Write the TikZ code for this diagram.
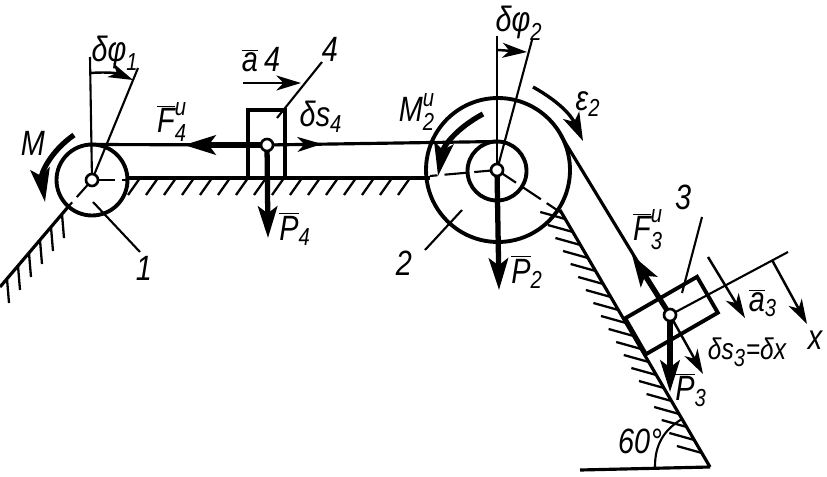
\documentclass[tikz,border=0pt]{standalone}
\usepackage{fontspec}
\setmainfont{Liberation Sans}[FakeStretch=0.82]
\usetikzlibrary{arrows.meta}
\newcommand{\ls}[1]{\mbox{\fontsize{14}{16}\selectfont\itshape #1}}
\tikzset{
  lab/.style={font=\fontsize{20}{22}\selectfont\itshape,inner sep=0pt},
  wheel/.style={circle,draw,line width=2.2pt,inner sep=0pt,outer sep=0pt},
  pin/.style={circle,draw,fill=white,line width=1.5pt,inner sep=0pt,minimum size=0.24cm},
  blockbox/.style={draw,line width=2.2pt,inner sep=0pt,outer sep=0pt},
  rope/.style={line width=1.8pt},
  thinline/.style={line width=1.2pt},
  hatch/.style={line width=1.3pt},
  axisline/.style={line width=1.2pt,dash pattern=on 13pt off 4pt},
  force/.style={line width=3pt,-{Stealth[length=18pt,width=11pt,inset=4pt]}},
  moment/.style={line width=3pt,-{Stealth[length=19pt,width=11pt,inset=4pt]}},
  move/.style={line width=1.4pt,-{Stealth[length=14pt,width=8.5pt,inset=4pt]}},
}
\begin{document}
\begin{tikzpicture}[x=0.02cm,y=-0.02cm]
  \useasboundingbox (0,0) rectangle (827,476);
  % points of the mechanism
  \coordinate (c1) at (92,180);
  \coordinate (c2) at (497,170);
  \coordinate (c3) at (670,315);
  \coordinate (c4) at (267,145);
  \coordinate (gl) at (128,178);
  \coordinate (gr) at (430,178);
  \coordinate (sl1) at (68,207);
  \coordinate (sl2) at (0,287);
  \coordinate (sr1) at (560,210);
  \coordinate (apex) at (710,467);
  \coordinate (base) at (580,470);
  % ground and hatching
  \draw [rope] (gl) -- (gr);
  \foreach \x in {140,158,...,425}
    \draw [hatch] (\x,178) -- ++(-12,17);
  \draw [rope] (sl1) -- (sl2);
  \foreach \x in {7,18,...,67}
    \draw [hatch] (\x,{207+(68-\x)*1.18}) -- ++(2,24);
  \draw [rope] (sr1) -- (apex);
  \draw [rope] (base) -- (apex);
  \foreach \y in {219,232,...,465}
    \draw [hatch] ({560+(\y-210)*0.584},\y) -- ++(-25,-7);
  % wheels and blocks
  \node [wheel,minimum size=1.42cm] (w1) at (92,180) {};
  \node [wheel,minimum size=2.88cm] (w2) at (498,170) {};
  \node [wheel,minimum size=1.18cm] (w2in) at (497,171) {};
  \node [blockbox,minimum width=0.74cm,minimum height=1.36cm] (b4) at (266.5,144) {};
  \node [blockbox,rotate=30,minimum width=1.66cm,minimum height=0.83cm] (b3) at (671.5,315.5) {};
  % centre lines
  \coordinate (e1) at (128,180);
  \coordinate (e1b) at (68,207);
  \coordinate (e2) at (430,176);
  \coordinate (e2b) at (560,212);
  \draw [axisline] (c1) -- (e1);
  \draw [axisline] (c1) -- (e1b);
  \draw [axisline] (c2) -- (e2);
  \draw [axisline] (c2) -- (e2b);
  % ropes
  \coordinate (t2) at (560,134);
  \draw [rope] (w1.north) -- (c4);
  \draw [rope] (c4) -- (w2in.north);
  \draw [rope] (t2) -- (c3);
  % virtual rotations
  \coordinate (v1) at (90,57);
  \coordinate (v1b) at (138,68);
  \coordinate (v2) at (497,36);
  \coordinate (v2b) at (532,40);
  \draw [thinline] (c1) -- (v1);
  \draw [thinline] (c1) -- (v1b);
  \draw [thinline] (c2) -- (v2);
  \draw [thinline] (c2) -- (v2b);
  \coordinate (a1s) at (91,73);
  \coordinate (a1e) at (133,80);
  \coordinate (a2s) at (498,50);
  \coordinate (a2e) at (527,52);
  \draw [move] (a1s) to [bend left=14] (a1e);
  \draw [move] (a2s) to (a2e);
  % moments
  \coordinate (ms) at (74,135);
  \coordinate (me) at (45,202);
  \coordinate (m2s) at (483,114);
  \coordinate (m2e) at (438,176);
  \coordinate (es) at (533,87);
  \coordinate (ee) at (583,141);
  \draw [moment] (ms) to [bend right=32] (me);
  \draw [moment] (m2s) to [bend right=26] (m2e);
  \draw [line width=1.9pt,-{Stealth[length=16pt,width=10pt,inset=4pt]}] (es) to [bend left=18] (ee);
  % forces and accelerations
  \coordinate (f4) at (184,145);
  \coordinate (s4) at (322,144);
  \coordinate (p4) at (268,238);
  \coordinate (a4s) at (243,83);
  \coordinate (a4e) at (301,83);
  \coordinate (p2) at (499,290);
  \coordinate (f3) at (632,255);
  \coordinate (p3) at (670,392);
  \coordinate (s3) at (703,374);
  \coordinate (a3s) at (708,257);
  \coordinate (a3e) at (745,318);
  \coordinate (xs) at (772,260);
  \coordinate (xe) at (807,324);
  \coordinate (xa) at (788,252);
  \draw [force] (c4) -- (f4);
  \draw [move] (c4) -- (s4);
  \draw [force] (c4) -- (p4);
  \draw [move] (a4s) -- (a4e);
  \draw [force] (c2) -- (p2);
  \draw [force] (c3) -- (f3);
  \draw [force] (c3) -- (p3);
  \draw [move] (c3) -- (s3);
  \draw [move] (a3s) -- (a3e);
  \draw [move] (xs) -- (xe);
  \draw [thinline] (c3) -- (xa);
  % leaders
  \coordinate (l1s) at (93,202);
  \coordinate (l1e) at (140,252);
  \coordinate (l2s) at (462,210);
  \coordinate (l2e) at (425,250);
  \coordinate (l3s) at (702,217);
  \coordinate (l3e) at (682,293);
  \coordinate (l4s) at (277,118);
  \coordinate (l4e) at (322,62);
  \draw [thinline] (l1s) -- (l1e);
  \draw [thinline] (l2s) -- (l2e);
  \draw [thinline] (l3s) -- (l3e);
  \draw [thinline] (l4s) -- (l4e);
  % 60 degree arc
  \coordinate (r1) at (655,467);
  \coordinate (r2) at (682,419);
  \draw [thinline] (r1) to [bend left=30] (r2);
  % pins
  \node [pin] (pin1) at (c1) {};
  \node [pin] (pin2) at (c2) {};
  \node [pin] (pin3) at (c3) {};
  \node [pin] (pin4) at (c4) {};
  % labels
  \node [lab] (tphi1) at (115,53) {\(\mbox{δφ}_{\ls{1}}\)};
  \node [lab] (tphi2) at (519,23) {\(\mbox{δφ}_{\ls{2}}\)};
  \node [lab] (tM) at (33,143) {M};
  \node [lab] (ta4) at (261,60) {\(\overline{\mbox{a}}\,\mbox{4}\)};
  \node [lab] (tn4) at (330,49) {4};
  \node [lab] (tF4) at (172,122) {\(\overline{\mbox{F}}_{\ls{4}}^{\ls{и}}\)};
  \node [lab] (ts4) at (321,117) {\(\mbox{δs}_{\ls{4}}\)};
  \node [lab] (tP4) at (295,229) {\(\overline{\mbox{P}}_{\ls{4}}\)};
  \node [lab] (tn1) at (144,268) {1};
  \node [lab] (tM2) at (417,112) {\(\mbox{M}_{\ls{2}}^{\ls{и}}\)};
  \node [lab] (teps) at (588,104) {\(\mbox{ε}_{\ls{2}}\)};
  \node [lab] (tn2) at (404,263) {2};
  \node [lab] (tP2) at (527,272) {\(\overline{\mbox{P}}_{\ls{2}}\)};
  \node [lab] (tF3) at (648,230) {\(\overline{\mbox{F}}_{\ls{3}}^{\ls{и}}\)};
  \node [lab] (tn3) at (683,197) {3};
  \node [lab] (ta3) at (763,303) {\(\overline{\mbox{a}}_{\ls{3}}\)};
  \node [lab] (tx) at (815,340) {x};
  \node [lab,font=\fontsize{17}{20}\selectfont\itshape] (ts3) at (747,352) {\(\mbox{δs}_{\ls{3}}\mbox{=δx}\)};
  \node [lab] (tP3) at (691,390) {\(\overline{\mbox{P}}_{\ls{3}}\)};
  \node [lab] (t60) at (640,441) {60°};
\end{tikzpicture}
\end{document}
